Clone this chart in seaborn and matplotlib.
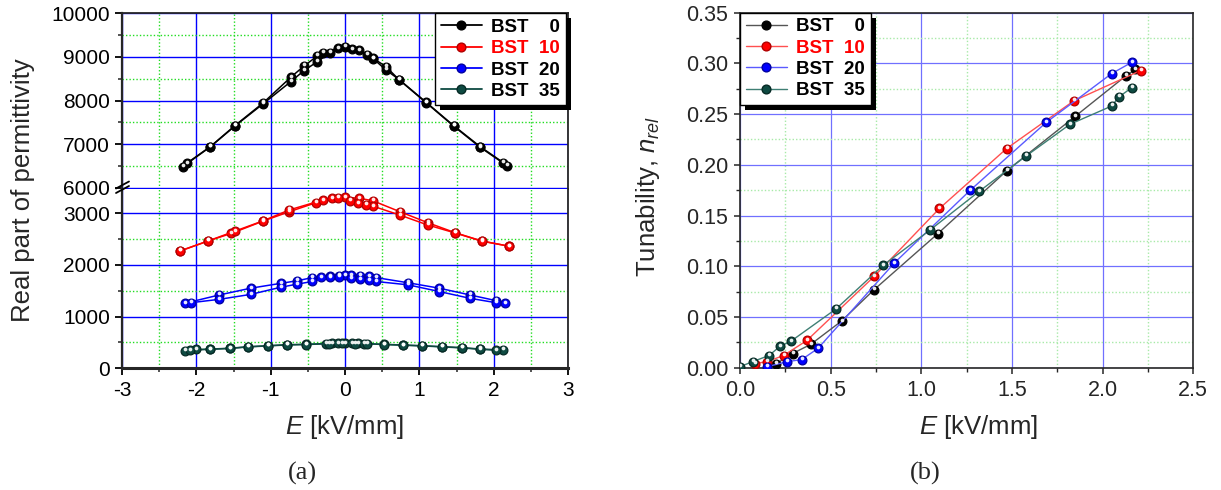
import numpy as np
import pandas as pd
import matplotlib
matplotlib.use("Agg")
import matplotlib.pyplot as plt
from matplotlib.ticker import MultipleLocator, FormatStrFormatter
from matplotlib.lines import Line2D
from matplotlib.patches import Rectangle
from matplotlib.transforms import offset_copy, IdentityTransform
import seaborn as sns

sns.set_style("ticks")
plt.rcParams["font.family"] = ["Liberation Sans", "DejaVu Sans"]
plt.rcParams["mathtext.fontset"] = "custom"
plt.rcParams["mathtext.rm"] = "Liberation Sans"
plt.rcParams["mathtext.it"] = "Liberation Sans:italic"
plt.rcParams["axes.unicode_minus"] = False

# ---- (a) permittivity vs field: up and down sweeps for each composition ----
bst0_E_up = [-2.18, -1.81, -1.48, -1.10, -0.73, -0.55, -0.37, -0.20, 0.00, 0.19, 0.38, 0.55, 0.73, 1.09, 1.46, 1.82, 2.18]
bst0_P_up = [6490, 6945, 7420, 7930, 8435, 8690, 8895, 9100, 9235, 9150, 8970, 8780, 8475, 7955, 7420, 6930, 6510]
bst0_E_dn = [2.13, 1.82, 1.46, 1.09, 0.73, 0.55, 0.38, 0.29, 0.10, -0.10, -0.30, -0.37, -0.55, -0.73, -1.10, -1.48, -1.81, -2.13]
bst0_P_dn = [6580, 6945, 7430, 7965, 8480, 8705, 8960, 9045, 9175, 9200, 9100, 9025, 8795, 8535, 7950, 7430, 6950, 6565]

bst10_E_up = [-2.22, -1.84, -1.53, -1.10, -0.75, -0.39, -0.18, 0.00, 0.19, 0.37, 0.74, 1.11, 1.48, 1.84, 2.20]
bst10_P_up = [2270, 2465, 2610, 2850, 3030, 3205, 3290, 3310, 3290, 3245, 3030, 2820, 2625, 2465, 2365]
bst10_E_dn = [2.20, 1.84, 1.48, 1.11, 0.74, 0.37, 0.28, 0.18, 0.07, -0.09, -0.30, -0.75, -1.10, -1.48, -1.84, -2.22]
bst10_P_dn = [2365, 2460, 2620, 2775, 2965, 3140, 3160, 3195, 3245, 3300, 3255, 3065, 2855, 2655, 2465, 2270]

bst20_E_up = [-2.15, -1.69, -1.27, -0.86, -0.64, -0.44, -0.32, -0.20, -0.08, 0.00, 0.08, 0.20, 0.32, 0.42, 0.85, 1.27, 1.68, 2.03, 2.15]
bst20_P_up = [1260, 1420, 1550, 1645, 1695, 1755, 1765, 1780, 1795, 1805, 1800, 1790, 1780, 1755, 1655, 1550, 1420, 1310, 1260]
bst20_E_dn = [2.03, 1.68, 1.27, 0.85, 0.42, 0.32, 0.20, 0.08, -0.08, -0.20, -0.44, -0.64, -0.86, -1.27, -1.69, -2.07]
bst20_P_dn = [1270, 1355, 1485, 1615, 1680, 1700, 1720, 1740, 1770, 1760, 1680, 1630, 1570, 1430, 1335, 1270]

bst35_E_up = [-2.15, -1.81, -1.55, -1.30, -1.04, -0.78, -0.52, -0.26, -0.17, -0.09, 0.00, 0.09, 0.17, 0.26, 0.52, 0.78, 1.04, 1.31, 1.57, 1.82, 2.13]
bst35_P_up = [340, 372, 388, 418, 437, 457, 465, 478, 480, 482, 485, 482, 480, 478, 465, 450, 437, 418, 400, 373, 355]
bst35_E_dn = [2.03, 1.82, 1.57, 1.31, 1.04, 0.78, 0.52, 0.30, 0.13, -0.04, -0.22, -0.52, -0.78, -1.04, -1.30, -1.55, -1.81, -2.01, -2.09]
bst35_P_dn = [350, 368, 395, 414, 433, 447, 460, 474, 478, 480, 476, 460, 452, 433, 414, 384, 368, 365, 352]

# ---- (b) relative tunability vs field ----
tun_E_0 = [0.20, 0.29, 0.39, 0.56, 0.74, 1.09, 1.47, 1.85, 2.13, 2.18]
tun_0 = [0.004, 0.014, 0.023, 0.046, 0.077, 0.132, 0.194, 0.248, 0.288, 0.294]
tun_E_10 = [0.08, 0.15, 0.24, 0.37, 0.74, 1.10, 1.47, 1.84, 2.21]
tun_10 = [0.004, 0.006, 0.012, 0.027, 0.090, 0.157, 0.216, 0.263, 0.293]
tun_E_20 = [0.15, 0.26, 0.34, 0.43, 0.85, 1.27, 1.69, 2.05, 2.16]
tun_20 = [0.001, 0.006, 0.008, 0.019, 0.103, 0.175, 0.242, 0.290, 0.301]
tun_E_35 = [0.00, 0.07, 0.16, 0.22, 0.28, 0.53, 0.79, 1.05, 1.32, 1.58, 1.82, 2.05, 2.09, 2.16]
tun_35 = [0.001, 0.006, 0.012, 0.021, 0.026, 0.058, 0.101, 0.136, 0.174, 0.209, 0.240, 0.258, 0.267, 0.276]

samples = ["BST 0", "BST 10", "BST 20", "BST 35"]
legend_labels = ["BST    0", "BST  10", "BST  20", "BST  35"]
legend_text_colors = ["black", "#ff0000", "black", "black"]
line_colors = {"BST 0": "#000000", "BST 10": "#ff0000", "BST 20": "#0000ff", "BST 35": "#0e4a42"}
edge_colors = {"BST 0": "#000000", "BST 10": "#b00000", "BST 20": "#0000a0", "BST 35": "#062a25"}
light_lines = {"BST 0": "#555555", "BST 10": "#ff5050", "BST 20": "#5a5aff", "BST 35": "#3f7f74"}

sweeps = {
    "BST 0": [(bst0_E_up, bst0_P_up), (bst0_E_dn, bst0_P_dn)],
    "BST 10": [(bst10_E_up, bst10_P_up), (bst10_E_dn, bst10_P_dn)],
    "BST 20": [(bst20_E_up, bst20_P_up), (bst20_E_dn, bst20_P_dn)],
    "BST 35": [(bst35_E_up, bst35_P_up), (bst35_E_dn, bst35_P_dn)],
}
rows = []
for s, branches in sweeps.items():
    for b, (ev, pv) in enumerate(branches):
        for e, p in zip(ev, pv):
            rows.append({"sample": s, "branch": b, "E": e, "eps": p})
perm = pd.DataFrame(rows)

tun_rows = []
for s, ev, tv in zip(samples, [tun_E_0, tun_E_10, tun_E_20, tun_E_35], [tun_0, tun_10, tun_20, tun_35]):
    for e, t in zip(ev, tv):
        tun_rows.append({"sample": s, "E": e, "n": t})
tun = pd.DataFrame(tun_rows)

W, H = 1221, 490
fig = plt.figure(figsize=(W / 100, H / 100), dpi=100)

# broken permittivity axis: two stacked panels
lx0, lx1, ltop, lbrk, lbot = 122, 568, 13.3, 189, 368.3
ax_hi = fig.add_axes([lx0 / W, 1 - lbrk / H, (lx1 - lx0) / W, (lbrk - ltop) / H])
ax_lo = fig.add_axes([lx0 / W, 1 - lbot / H, (lx1 - lx0) / W, (lbot - lbrk) / H])
ax_r = fig.add_axes([740 / W, 1 - 367.7 / H, 453.3 / W, 355 / H])

TICK_FS = 15


def highlight(ax, x, y):
    # small specular spot on each sphere-like marker
    tr = offset_copy(ax.transData, fig=fig, x=0.0, y=1.1, units="points")
    ax.plot(x, y, ls="none", marker="o", ms=1.7, color="white", alpha=0.85,
            transform=tr, zorder=4)


def draw_perm(ax):
    for s in samples:
        sub = perm[perm["sample"] == s]
        sns.lineplot(data=sub, x="E", y="eps", units="branch", estimator=None, sort=False,
                     color=line_colors[s], marker="o", markersize=6.3,
                     markeredgecolor=edge_colors[s], markeredgewidth=0.9,
                     lw=1.1, ax=ax, legend=False, zorder=3)
        highlight(ax, sub["E"], sub["eps"])
    ax.set_xlim(-3, 3)
    ax.xaxis.set_major_locator(MultipleLocator(1))
    ax.xaxis.set_minor_locator(MultipleLocator(0.5))
    ax.yaxis.set_major_locator(MultipleLocator(1000))
    ax.yaxis.set_minor_locator(MultipleLocator(500))
    ax.set_axisbelow(True)
    ax.grid(which="major", color="#0000ff", lw=1.0, ls="-")
    ax.grid(which="minor", color="#22dd22", lw=1.0, ls=(0, (1, 1.5)))
    ax.set_xlabel("")
    ax.set_ylabel("")
    ax.tick_params(which="major", direction="out", length=5, width=1.3,
                   labelsize=TICK_FS, pad=3.5, colors="black")
    ax.tick_params(which="minor", direction="out", length=2.8, width=1.1)


draw_perm(ax_hi)
draw_perm(ax_lo)
ax_hi.set_ylim(5977, 10000)
ax_lo.set_ylim(0, 3470)

ax_hi.tick_params(axis="x", which="both", bottom=False, labelbottom=False)
ax_hi.spines["bottom"].set_visible(False)
ax_lo.spines["top"].set_visible(False)
for a in (ax_hi, ax_lo):
    a.spines["left"].set_linewidth(1.6)
    a.spines["right"].set_linewidth(1.3)
ax_hi.spines["top"].set_linewidth(1.3)
ax_lo.spines["bottom"].set_linewidth(2.2)
ax_lo.tick_params(axis="x", which="major", pad=4)

# break marks on the left spine
for dy in (0, 4.5):
    fig.add_artist(Line2D([(lx0 - 6) / W, (lx0 + 7) / W],
                          [1 - (lbrk + 4 - dy) / H, 1 - (lbrk - 3 - dy) / H],
                          color="black", lw=1.3, transform=fig.transFigure))

# ---- (b) ----
for s in samples:
    sub = tun[tun["sample"] == s]
    sns.lineplot(data=sub, x="E", y="n", estimator=None, sort=False,
                 color=light_lines[s], marker="o", markersize=6.3,
                 markerfacecolor=line_colors[s], markeredgecolor=edge_colors[s],
                 markeredgewidth=0.9, lw=1.0, ax=ax_r, legend=False, zorder=3)
    highlight(ax_r, sub["E"], sub["n"])
ax_r.set_xlim(0, 2.5)
ax_r.set_ylim(0, 0.35)
ax_r.xaxis.set_major_locator(MultipleLocator(0.5))
ax_r.xaxis.set_minor_locator(MultipleLocator(0.25))
ax_r.yaxis.set_major_locator(MultipleLocator(0.05))
ax_r.yaxis.set_minor_locator(MultipleLocator(0.025))
ax_r.xaxis.set_major_formatter(FormatStrFormatter("%.1f"))
ax_r.yaxis.set_major_formatter(FormatStrFormatter("%.2f"))
ax_r.set_axisbelow(True)
ax_r.grid(which="major", color="#7070ff", lw=0.9, ls="-")
ax_r.grid(which="minor", color="#a8eaa8", lw=1.0, ls=(0, (1, 1.5)))
ax_r.set_xlabel("")
ax_r.set_ylabel("")
ax_r.tick_params(which="major", direction="out", length=4.5, width=1.1,
                 labelsize=TICK_FS + 0.5, pad=4)
ax_r.tick_params(which="minor", direction="out", length=2.8, width=1.0)
for sp in ax_r.spines.values():
    sp.set_linewidth(1.2)

# axis titles and panel captions
fig.text(23 / W, 1 - 190 / H, "Real part of permittivity", rotation=90,
         ha="center", va="center", fontsize=18.5)
fig.text(648 / W, 1 - 196 / H, r"Tunability, $n_{rel}$", rotation=90,
         ha="center", va="center", fontsize=18.5)
fig.text(344 / W, 1 - 427 / H, r"$E$ [kV/mm]", ha="center", va="center", fontsize=18.5)
fig.text(978 / W, 1 - 427 / H, r"$E$ [kV/mm]", ha="center", va="center", fontsize=18.5)
fig.text(302 / W, 1 - 473 / H, "(a)", ha="center", va="center", fontsize=19,
         family=["Liberation Serif", "DejaVu Serif"])
fig.text(925 / W, 1 - 473 / H, "(b)", ha="center", va="center", fontsize=19,
         family=["Liberation Serif", "DejaVu Serif"])


def make_legend(ax, loc, anchor, line_map, lw):
    handles = [Line2D([], [], color=line_map[s], lw=lw, marker="o", ms=6.3,
                      markerfacecolor=line_colors[s], markeredgecolor=edge_colors[s],
                      label=lab) for s, lab in zip(samples, legend_labels)]
    leg = ax.legend(handles=handles, loc=loc, bbox_to_anchor=anchor, borderaxespad=0.0,
                    frameon=True, fancybox=False, framealpha=1, edgecolor="black",
                    prop={"weight": "bold", "size": 13.5}, handlelength=2.2,
                    handletextpad=0.5, labelspacing=0.22, borderpad=0.3)
    leg.get_frame().set_linewidth(1.0)
    for t, c in zip(leg.get_texts(), legend_text_colors):
        t.set_color(c)
    return leg


leg_l = make_legend(ax_hi, "upper right", (0.995, 1.0), line_colors, 1.3)
leg_r = make_legend(ax_r, "upper left", (0.0, 1.0), light_lines, 1.0)

# solid drop shadows behind the legend boxes
fig.canvas.draw()
renderer = fig.canvas.get_renderer()
for ax, leg in ((ax_hi, leg_l), (ax_r, leg_r)):
    bb = leg.get_window_extent(renderer)
    shadow = Rectangle((bb.x0 + 5, bb.y0 - 5), bb.width, bb.height,
                       transform=IdentityTransform(), facecolor="black",
                       edgecolor="none", zorder=leg.get_zorder() - 0.1, clip_on=False)
    ax.add_artist(shadow)

fig.savefig("out.png", dpi=100)
